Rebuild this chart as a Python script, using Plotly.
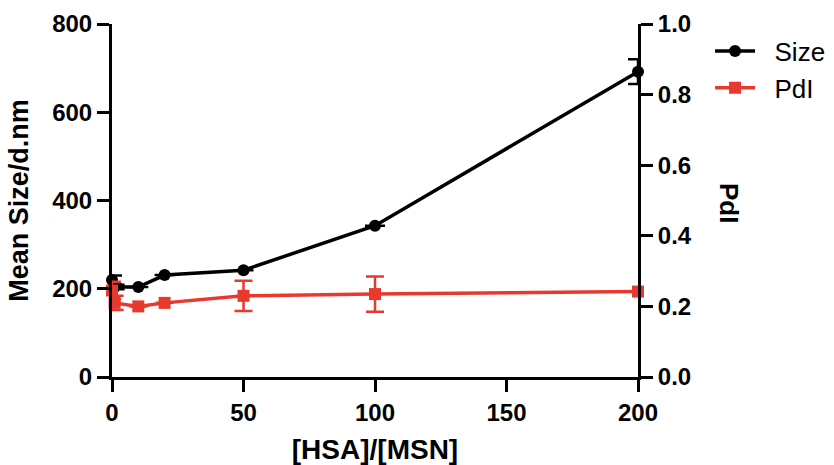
import plotly.graph_objects as go

# [HSA]/[MSN] ratio
ratio = [0, 1, 10, 20, 50, 100, 200]
# Mean hydrodynamic size (d.nm) and its standard deviation
size_nm = [220, 204, 204, 231, 242, 343, 692]
size_sd = [10, 5, 0, 0, 0, 0, 28]
# Polydispersity index and its standard deviation
pdi = [0.245, 0.21, 0.20, 0.21, 0.23, 0.235, 0.242]
pdi_sd = [0.025, 0.02, 0, 0, 0.043, 0.05, 0]

x_ticks = [0, 50, 100, 150, 200]
size_ticks = [0, 200, 400, 600, 800]
pdi_ticks = [0.0, 0.2, 0.4, 0.6, 0.8, 1.0]

FONT = "Liberation Sans, Arial, sans-serif"
RED = "#e8392f"
PAD = "\u00a0\u00a0"  # small gap between legend symbol and label

fig = go.Figure()

fig.add_trace(go.Scatter(
    x=ratio, y=size_nm, name=PAD + "Size", mode="lines+markers",
    line=dict(color="black", width=3.5),
    marker=dict(color="black", size=12, symbol="circle"),
    error_y=dict(type="data", array=size_sd, color="black", thickness=2.5, width=10),
    cliponaxis=False,
))

fig.add_trace(go.Scatter(
    x=ratio, y=pdi, name=PAD + "PdI", mode="lines+markers", yaxis="y2",
    line=dict(color=RED, width=3.5),
    marker=dict(color=RED, size=12, symbol="square"),
    error_y=dict(type="data", array=pdi_sd, color=RED, thickness=2.5, width=9),
    cliponaxis=False,
))

axis_common = dict(
    showgrid=False, zeroline=False, showline=True, linecolor="black", linewidth=3,
    ticks="outside", ticklen=12, tickwidth=3, tickcolor="black", automargin=False,
    tickfont=dict(family=FONT, size=24, color="black", weight="bold"),
)

fig.update_layout(
    width=834, height=465,
    margin=dict(l=112, r=196, t=24, b=88, autoexpand=False),
    paper_bgcolor="white", plot_bgcolor="white",
    font=dict(family=FONT, color="black"),
    xaxis=dict(
        range=[0, 200], tickvals=x_ticks,
        title=dict(text="[HSA]/[MSN]", font=dict(family=FONT, size=28, weight="bold"), standoff=18),
        **axis_common,
    ),
    yaxis=dict(
        range=[0, 800], tickvals=size_ticks,
        title=dict(text="Mean Size/d.nm", font=dict(family=FONT, size=27, weight="bold"), standoff=16),
        **axis_common,
    ),
    yaxis2=dict(
        range=[0, 1], tickvals=pdi_ticks, tickformat=".1f",
        overlaying="y", side="right", anchor="x",
        **axis_common,
    ),
    legend=dict(
        x=1.137, y=0.99, xanchor="left", yanchor="top",
        font=dict(family=FONT, size=26, color="black"),
        bgcolor="rgba(0,0,0,0)", itemwidth=40,
    ),
    annotations=[dict(
        text="PdI", xref="paper", yref="paper", x=1.173, y=0.493,
        xanchor="center", yanchor="middle",
        showarrow=False, textangle=90,
        font=dict(family=FONT, size=26, color="black", weight="bold"),
    )],
)

fig.write_html("out.html")
